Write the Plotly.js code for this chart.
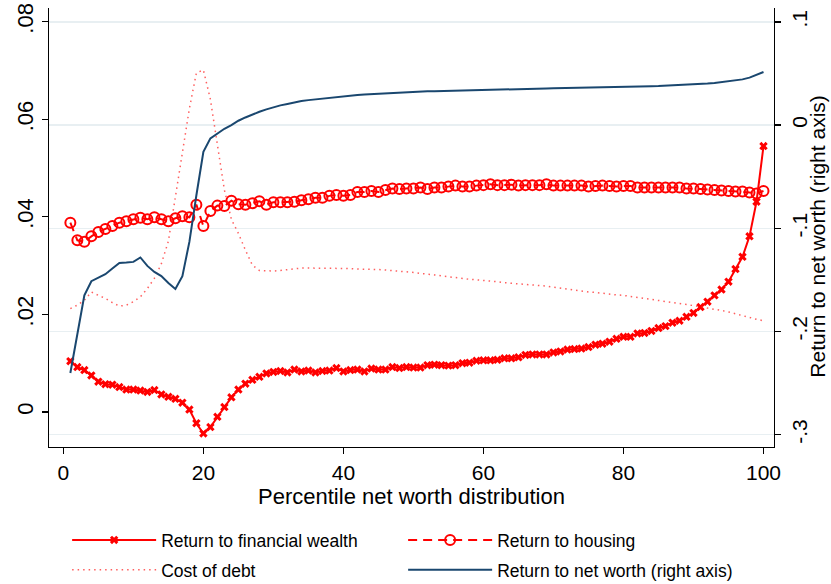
<!DOCTYPE html>
<html>
<head>
<meta charset="utf-8">
<script src="https://cdn.plot.ly/plotly-3.0.1.min.js"></script>
<style>html,body{margin:0;padding:0;background:#fff;}#chart{width:831px;height:584px;}</style>
</head>
<body>
<div id="chart"></div>
<script>
// Percentiles of the net worth distribution
const percentiles = Array.from({length: 100}, (_, i) => i + 1);

// Return to financial wealth (left axis)
const returnFinancial = [
  0.0104, 0.0092, 0.0086, 0.0075, 0.0062, 0.0057, 0.0056, 0.0051, 0.0046, 0.0046,
  0.0044, 0.0041, 0.0045, 0.0036, 0.0031, 0.0027, 0.0019, 0.0005, -0.0023, -0.0044,
  -0.0031, -0.0010, 0.0010, 0.0030, 0.0046, 0.0058, 0.0066, 0.0072, 0.0079, 0.0082,
  0.0084, 0.0081, 0.0087, 0.0083, 0.0085, 0.0081, 0.0084, 0.0085, 0.0090, 0.0083,
  0.0086, 0.0087, 0.0083, 0.0089, 0.0087, 0.0087, 0.0092, 0.0090, 0.0092, 0.0091,
  0.0091, 0.0096, 0.0097, 0.0096, 0.0095, 0.0096, 0.0100, 0.0101, 0.0105, 0.0106,
  0.0106, 0.0107, 0.0110, 0.0110, 0.0112, 0.0117, 0.0118, 0.0118, 0.0118, 0.0122,
  0.0124, 0.0128, 0.0129, 0.0130, 0.0133, 0.0138, 0.0140, 0.0144, 0.0150, 0.0154,
  0.0154, 0.0161, 0.0162, 0.0166, 0.0172, 0.0176, 0.0183, 0.0187, 0.0195, 0.0203,
  0.0215, 0.0226, 0.0239, 0.0251, 0.0267, 0.0293, 0.0318, 0.0360, 0.0431, 0.0545
];

// Return to housing (left axis)
const returnHousing = [
  0.0388, 0.0352, 0.0349, 0.0360, 0.0369, 0.0375, 0.0381, 0.0388, 0.0391, 0.0395,
  0.0398, 0.0395, 0.0399, 0.0395, 0.0391, 0.0397, 0.0401, 0.0399, 0.0425, 0.0381,
  0.0412, 0.0423, 0.0422, 0.0433, 0.0426, 0.0425, 0.0428, 0.0432, 0.0425, 0.0430,
  0.0430, 0.0430, 0.0431, 0.0434, 0.0436, 0.0439, 0.0439, 0.0443, 0.0445, 0.0443,
  0.0445, 0.0451, 0.0451, 0.0453, 0.0451, 0.0455, 0.0458, 0.0457, 0.0458, 0.0458,
  0.0460, 0.0457, 0.0460, 0.0460, 0.0462, 0.0464, 0.0462, 0.0462, 0.0464, 0.0465,
  0.0467, 0.0465, 0.0465, 0.0466, 0.0464, 0.0465, 0.0465, 0.0465, 0.0467, 0.0464,
  0.0464, 0.0464, 0.0464, 0.0464, 0.0462, 0.0463, 0.0464, 0.0463, 0.0462, 0.0463,
  0.0463, 0.0460, 0.0460, 0.0460, 0.0460, 0.0460, 0.0460, 0.0460, 0.0458, 0.0458,
  0.0457, 0.0456, 0.0455, 0.0454, 0.0453, 0.0452, 0.0452, 0.0450, 0.0448, 0.0453
];

// Cost of debt (left axis)
const costOfDebt = [
  0.0212, 0.0219, 0.0229, 0.0246, 0.0239, 0.0233, 0.0224, 0.0217, 0.0219, 0.0226,
  0.0236, 0.0253, 0.0274, 0.0304, 0.0350, 0.0440, 0.0537, 0.0622, 0.0695, 0.0701,
  0.0641, 0.0551, 0.0455, 0.0395, 0.0366, 0.0332, 0.0301, 0.0290, 0.0289, 0.0289,
  0.0290, 0.0292, 0.0294, 0.0295, 0.0295, 0.0295, 0.0295, 0.0294, 0.0294, 0.0294,
  0.0294, 0.0293, 0.0293, 0.0292, 0.0292, 0.0291, 0.0290, 0.0289, 0.0287, 0.0286,
  0.0284, 0.0283, 0.0281, 0.0279, 0.0277, 0.0275, 0.0273, 0.0272, 0.0271, 0.0270,
  0.0268, 0.0267, 0.0265, 0.0264, 0.0263, 0.0262, 0.0260, 0.0259, 0.0258, 0.0256,
  0.0254, 0.0252, 0.0249, 0.0247, 0.0246, 0.0245, 0.0243, 0.0242, 0.0240, 0.0239,
  0.0237, 0.0235, 0.0233, 0.0231, 0.0229, 0.0227, 0.0225, 0.0222, 0.0220, 0.0218,
  0.0216, 0.0213, 0.0211, 0.0208, 0.0205, 0.0201, 0.0198, 0.0194, 0.0190, 0.0187
];

// Return to net worth (right axis)
const returnNetWorth = [
  -0.2403, -0.2021, -0.1649, -0.1513, -0.1478, -0.1445, -0.1390, -0.1336, -0.1332, -0.1326,
  -0.1283, -0.1365, -0.1423, -0.1464, -0.1530, -0.1588, -0.1464, -0.1132, -0.0680, -0.0259,
  -0.0129, -0.0081, -0.0036, 0.0000, 0.0042, 0.0074, 0.0103, 0.0129, 0.0152, 0.0172,
  0.0191, 0.0204, 0.0220, 0.0233, 0.0242, 0.0249, 0.0259, 0.0268, 0.0275, 0.0281,
  0.0288, 0.0292, 0.0296, 0.0300, 0.0304, 0.0308, 0.0312, 0.0316, 0.0319, 0.0322,
  0.0325, 0.0327, 0.0329, 0.0331, 0.0333, 0.0335, 0.0337, 0.0339, 0.0341, 0.0343,
  0.0345, 0.0347, 0.0349, 0.0350, 0.0351, 0.0352, 0.0353, 0.0354, 0.0355, 0.0356,
  0.0357, 0.0358, 0.0359, 0.0360, 0.0361, 0.0363, 0.0364, 0.0365, 0.0367, 0.0368,
  0.0370, 0.0372, 0.0374, 0.0376, 0.0378, 0.0381, 0.0383, 0.0386, 0.0390, 0.0394,
  0.0398, 0.0403, 0.0409, 0.0416, 0.0424, 0.0432, 0.0443, 0.0460, 0.0485, 0.0514
];

const xTickVals = [0, 20, 40, 60, 80, 100];
const leftTickVals = [0, 0.02, 0.04, 0.06, 0.08];
const leftTickText = ['0', '.02', '.04', '.06', '.08'];
const rightTickVals = [-0.3, -0.2, -0.1, 0, 0.1];
const rightTickText = ['-.3', '-.2', '-.1', '0', '.1'];

const seriesNames = ['Return to financial wealth', 'Return to housing', 'Cost of debt', 'Return to net worth (right axis)'];
const xTitle = 'Percentile net worth distribution';
const rightTitle = 'Return to net worth (right axis)';

const FONT = 'Liberation Sans, Arial, Helvetica, sans-serif';
const RED = '#ff0000';
const NAVY = '#1a476f';

const traces = [
  {
    x: percentiles, y: returnFinancial, name: seriesNames[0], type: 'scatter', mode: 'lines+markers',
    line: {color: RED, width: 2},
    marker: {symbol: 'x', size: 7.5, color: RED, line: {width: 0}},
    yaxis: 'y', legend: 'legend'
  },
  {
    x: percentiles, y: returnHousing, name: seriesNames[1], type: 'scatter', mode: 'lines+markers',
    line: {color: RED, width: 2, dash: '9px,6px'},
    marker: {symbol: 'circle-open', size: 10, color: RED, line: {width: 2, color: RED}},
    yaxis: 'y', legend: 'legend'
  },
  {
    x: percentiles, y: costOfDebt, name: seriesNames[2], type: 'scatter', mode: 'lines',
    line: {color: 'rgba(255,40,40,0.75)', width: 1.5, dash: '1.5px,4px'},
    yaxis: 'y', legend: 'legend2'
  },
  {
    x: percentiles, y: returnNetWorth, name: seriesNames[3], type: 'scatter', mode: 'lines',
    line: {color: NAVY, width: 2},
    yaxis: 'y2', legend: 'legend2'
  }
];

const legendCommon = {
  orientation: 'h', x: 0.025, xanchor: 'left', yanchor: 'top',
  entrywidth: 237, entrywidthmode: 'pixels', itemwidth: 84,
  font: {family: FONT, size: 17.5}, bgcolor: 'rgba(0,0,0,0)'
};

const layout = {
  width: 831, height: 584,
  margin: {l: 49, r: 57, t: 8, b: 137, autoexpand: false},
  paper_bgcolor: '#ffffff', plot_bgcolor: '#ffffff',
  font: {family: FONT, color: '#000000', size: 21},
  showlegend: true,
  xaxis: {
    range: [-2.05, 101.5], tickvals: xTickVals, ticks: 'outside', ticklen: 6, tickwidth: 1.3, tickcolor: '#000',
    showline: true, linecolor: '#000', linewidth: 1.3, showgrid: false, zeroline: false, automargin: false,
    tickfont: {family: FONT, size: 21},
    title: {text: xTitle, font: {family: FONT, size: 22}, standoff: 3}
  },
  yaxis: {
    range: [-0.00718, 0.08281], tickvals: leftTickVals, ticktext: leftTickText, tickangle: -90,
    ticks: 'outside', ticklen: 6, tickwidth: 1.3, tickcolor: '#000', automargin: false,
    showline: true, linecolor: '#000', linewidth: 1.3, showgrid: false, zeroline: false,
    tickfont: {family: FONT, size: 22}
  },
  yaxis2: {
    overlaying: 'y', side: 'right', automargin: false,
    range: [-0.3120, 0.11348], tickvals: rightTickVals, ticktext: rightTickText, tickangle: -90,
    ticks: 'outside', ticklen: 6, tickwidth: 1.3, tickcolor: '#000',
    showline: true, linecolor: '#000', linewidth: 1.3,
    showgrid: true, gridcolor: '#e8eff2', gridwidth: 1.5, zeroline: false,
    tickfont: {family: FONT, size: 21}
  },
  annotations: [{
    text: rightTitle, xref: 'paper', yref: 'paper', x: 1.06, y: 0.478,
    xanchor: 'center', yanchor: 'middle', textangle: -90, showarrow: false,
    font: {family: FONT, size: 21, color: '#000'}
  }],
  legend: Object.assign({}, legendCommon, {y: -0.171}),
  legend2: Object.assign({}, legendCommon, {y: -0.239})
};

Plotly.newPlot('chart', traces, layout, {staticPlot: true, displayModeBar: false});
</script>
</body>
</html>
